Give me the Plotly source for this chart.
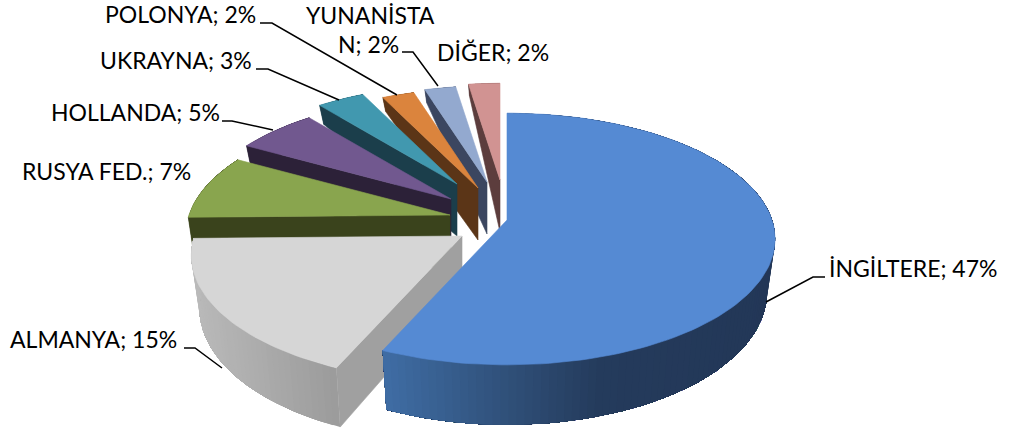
import math
import plotly.graph_objects as go

# --- data ---
categories = ["İNGİLTERE", "ALMANYA", "RUSYA FED.", "HOLLANDA", "UKRAYNA", "POLONYA", "YUNANİSTAN", "DİĞER"]
values = [47, 15, 7, 5, 3, 2, 2, 2]

# --- styles ---
top_colors = ["#558ad3", "#d6d6d6", "#89a54e", "#71588f", "#4198af", "#db843d", "#93a9cf", "#d19392"]
face_colors = [None, "#a0a0a0", "#3a431c", "#2c2138", "#1b3e4b", "#5b3517", "#3b4660", "#5c3d3d"]
wall_stops = [
    [(387, "#3f6ca3"), (507, "#305079"), (600, "#243b5c"), (780, "#233757")],
    [(190, "#bababa"), (337, "#9b9b9b")],
    [(0, "#3a431c"), (1014, "#3a431c")],
    [(0, "#2c2138"), (1014, "#2c2138")],
    [(0, "#1b3e4b"), (1014, "#1b3e4b")],
    [(0, "#5b3517"), (1014, "#5b3517")],
    [(0, "#3b4660"), (1014, "#3b4660")],
    [(0, "#5c3d3d"), (1014, "#5c3d3d")],
]

# --- projection settings (3-D pie with perspective and per-slice explosion) ---
apex_x = [507, 462, 450, 451, 457, 478, 487, 500]
apex_y = [220, 236, 215, 199, 184, 188, 182, 180]
slice_scale = [1.0, 1.01, 0.985, 0.95, 0.92, 0.93, 0.90, 0.906]
RX, RY, PERSP = 265.0, 123.0, 0.151

# --- label settings ---
label_x = [829, 10, 22, 51, 100, 105, None, 437]
label_y = [269, 340, 172, 113, 61, 15, None, 53]
leaders = [
    ([825, 813, 766], [277, 277, 302]),
    ([184, 195, 222], [348, 348, 368]),
    ([], []),
    ([222, 232, 273], [121, 121, 130]),
    ([256, 268, 339], [69, 69, 100]),
    ([260, 272, 397], [23, 23, 95]),
    ([402, 413, 438], [52, 52, 86]),
    ([], []),
]


def hex2rgb(c):
    return tuple(int(c[i:i + 2], 16) for i in (1, 3, 5))


def color_at(stops, x):
    if x <= stops[0][0]:
        return stops[0][1]
    for (x0, c0), (x1, c1) in zip(stops, stops[1:]):
        if x <= x1:
            t = (x - x0) / (x1 - x0)
            a, b = hex2rgb(c0), hex2rgb(c1)
            return "#%02x%02x%02x" % tuple(round(p + (q - p) * t) for p, q in zip(a, b))
    return stops[-1][1]


def rim(i, deg):
    t = math.radians(deg)
    u, v = math.sin(t), math.cos(t)
    d = 1 + PERSP * v
    return RX * u / d * slice_scale[i], -RY * v / d * slice_scale[i]


def top_pt(i, dx, dy):
    return apex_x[i] + dx, apex_y[i] + dy


def bot_pt(i, dx, dy):
    h = 52 + dy * (0.055 if dy > 0 else 0.42)
    return apex_x[i] + dx * 0.97, apex_y[i] + dy + h


def poly(fig, pts, color, width=0.6):
    fig.add_trace(go.Scatter(
        x=[p[0] for p in pts] + [pts[0][0]],
        y=[p[1] for p in pts] + [pts[0][1]],
        mode="lines", fill="toself", fillcolor=color,
        line=dict(color=color, width=width),
        hoverinfo="skip", showlegend=False))


total = sum(values)
starts, ang = [], 0.0
for val in values:
    starts.append(ang)
    ang += val / total * 360
ends = starts[1:] + [360.0]

fig = go.Figure()

# painter's order: back slices first, largest front slice last
for i in [7, 6, 5, 4, 3, 2, 1, 0]:
    a0, a1 = starts[i], ends[i]
    n = max(2, int((a1 - a0) / 1.5))
    angs = [a0 + (a1 - a0) * k / n for k in range(n + 1)]
    # outer wall: each strip runs on to the far end of the arc so no seams show
    for k in range(n):
        far = angs[k:]
        d_near, d_next = rim(i, angs[k]), rim(i, angs[k + 1])
        mx = apex_x[i] + (d_near[0] + d_next[0]) / 2
        tops = [top_pt(i, *rim(i, a)) for a in far]
        bots = [bot_pt(i, *rim(i, a)) for a in reversed(far)]
        poly(fig, tops + bots, color_at(wall_stops[i], mx), width=0)
    # radial cut face
    if face_colors[i]:
        d = rim(i, a0)
        poly(fig, [top_pt(i, 0, 0), top_pt(i, *d), bot_pt(i, *d), bot_pt(i, 0, 0)], face_colors[i])
    # top surface
    pts = [top_pt(i, 0, 0)] + [top_pt(i, *rim(i, a)) for a in angs]
    poly(fig, pts, top_colors[i])

for lx, ly in leaders:
    if lx:
        fig.add_trace(go.Scatter(x=lx, y=ly, mode="lines", line=dict(color="#000000", width=1.5),
                                 hoverinfo="skip", showlegend=False))

FONT = dict(family="Lato", size=23, color="#000000")
for i, (c, val) in enumerate(zip(categories, values)):
    text = f"{c}; {val}%"
    if c == "YUNANİSTAN":
        parts = [(306, 16, text[:9]), (338, 45, text[9:])]
    else:
        parts = [(label_x[i], label_y[i], text)]
    for px, py, t in parts:
        fig.add_annotation(x=px, y=py, text=t, showarrow=False, xanchor="left", yanchor="middle",
                           xshift=-2.5, yshift=1.5, font=FONT)

fig.update_layout(
    width=1014, height=434, margin=dict(l=0, r=0, t=0, b=0),
    paper_bgcolor="#ffffff", plot_bgcolor="#ffffff", showlegend=False,
    xaxis=dict(range=[0, 1014], visible=False, fixedrange=True),
    yaxis=dict(range=[434, 0], visible=False, fixedrange=True),
)
fig.write_html("out.html", config={"displayModeBar": False},
               post_script="document.body.style.margin='0';document.body.style.overflow='hidden';")
